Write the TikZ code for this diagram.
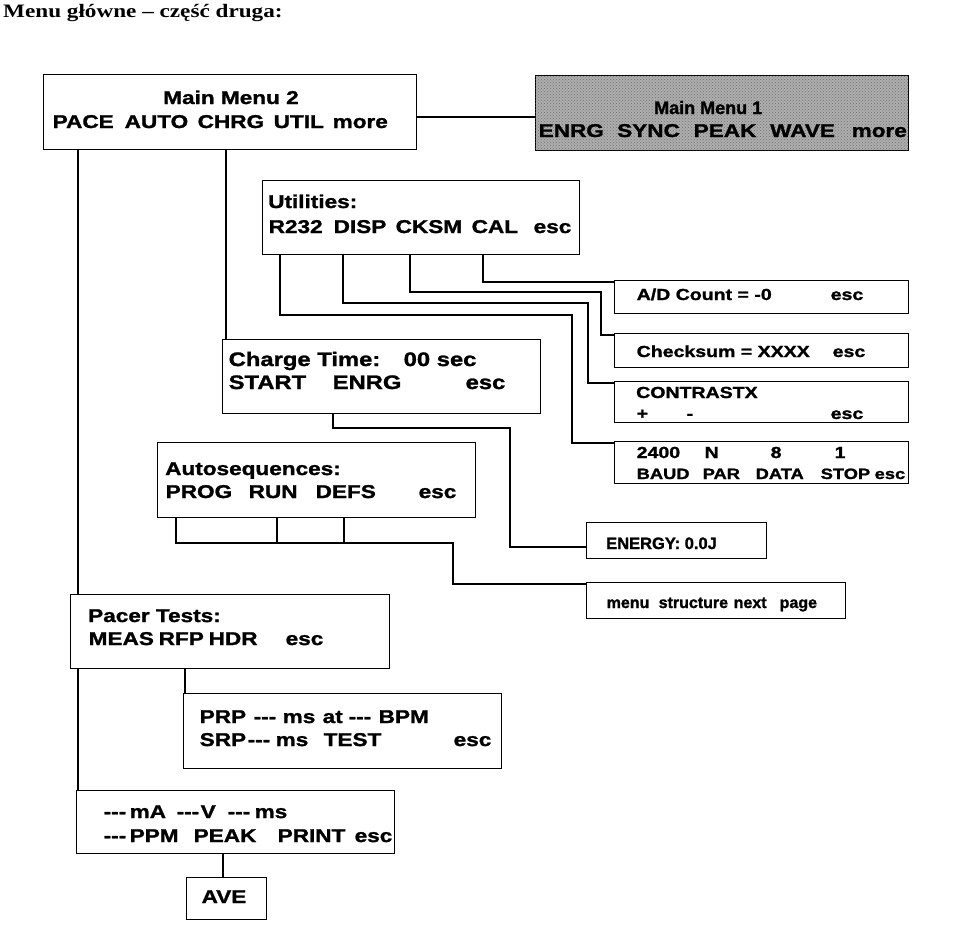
\documentclass[tikz,border=0pt]{standalone}
\usepackage{fontspec}
\usetikzlibrary{patterns}
\setmainfont{Liberation Sans}
\newfontfamily\bxf{Liberation Sans}[FakeStretch=1.22,FakeBold=1.4]
\newfontfamily\bnf{Liberation Sans}[FakeBold=1.4]
\newfontfamily\ttlf{Liberation Serif}[FakeStretch=1.22]
\newcommand\tw[2]{\makebox[0pt][l]{\hspace*{#1pt}#2}}
\newcommand\dsh{{-}{-}{-}}
\begin{document}
\begin{tikzpicture}[x=1pt,y=-1pt,
  box/.style={draw, line width=1.4pt, inner sep=0pt, anchor=north west},
  wire/.style={line width=1.3pt},
  big/.style={inner sep=0pt, anchor=base west, font=\bxf\bfseries\fontsize{18.5}{20}\selectfont},
  bigc/.style={inner sep=0pt, anchor=base west, font=\bxf\bfseries\fontsize{19.5}{21}\selectfont},
  sml/.style={inner sep=0pt, anchor=base west, font=\bxf\bfseries\fontsize{16}{18}\selectfont},
  nar/.style={inner sep=0pt, anchor=base west, font=\bnf\bfseries\fontsize{16}{18}\selectfont},
]
\useasboundingbox (0,0) rectangle (960,948);

% title
\node[anchor=base west, inner sep=0pt, font=\ttlf\bfseries\fontsize{19}{21}\selectfont] (title) at (3,17) {Menu główne – część druga:};

% boxes
\node[box, minimum width=373pt, minimum height=75pt] (mm2) at (43,74) {};
\node[box, fill=black!32, postaction={pattern=crosshatch dots, pattern color=black!55}, minimum width=373pt, minimum height=75pt] (mm1) at (535,75) {};
\node[box, minimum width=317pt, minimum height=74pt] (util) at (262,180) {};
\node[box, minimum width=294pt, minimum height=33pt] (ad) at (614,280) {};
\node[box, minimum width=294pt, minimum height=34pt] (cks) at (614,333) {};
\node[box, minimum width=294pt, minimum height=41pt] (contr) at (614,381) {};
\node[box, minimum width=294pt, minimum height=42pt] (baud) at (614,441) {};
\node[box, minimum width=318pt, minimum height=74pt] (chg) at (222,339) {};
\node[box, minimum width=318pt, minimum height=75pt] (auto) at (157,442) {};
\node[box, minimum width=180pt, minimum height=36pt] (en) at (586,522) {};
\node[box, minimum width=259pt, minimum height=36pt] (menu) at (586,582) {};
\node[box, minimum width=319pt, minimum height=74pt] (pacer) at (70,594) {};
\node[box, minimum width=318pt, minimum height=75pt] (prp) at (183,693) {};
\node[box, minimum width=318pt, minimum height=63pt] (meas) at (76,790) {};
\node[box, minimum width=80pt, minimum height=42pt] (ave) at (186,877) {};

% connectors
\draw[wire] (mm2.east |- 0,117) -- (mm1.west |- 0,117);
\draw[wire] (mm2.south -| 78,0) -- (pacer.north -| 78,0);
\draw[wire] (pacer.south -| 78,0) -- (meas.north -| 78,0);
\draw[wire] (mm2.south -| 226,0) -- (chg.north -| 226,0);
\draw[wire] (util.south -| 483,0) |- (ad.west |- 0,282);
\draw[wire] (util.south -| 410,0) |- (601,292) |- (cks.west |- 0,335);
\draw[wire] (util.south -| 343,0) |- (588,303) |- (contr.west |- 0,383);
\draw[wire] (util.south -| 280,0) |- (572,315) |- (baud.west |- 0,443);
\draw[wire] (chg.south -| 333,0) |- (510,428) |- (en.west |- 0,547);
\draw[wire] (auto.south -| 176,0) |- (453,543) |- (menu.west |- 0,584);
\draw[wire] (auto.south -| 277,0) -- (277,543);
\draw[wire] (auto.south -| 344,0) -- (344,543);
\draw[wire] (pacer.south -| 185,0) -- (prp.north -| 185,0);
\draw[wire] (meas.south -| 223,0) -- (ave.north -| 223,0);

% texts
\node[big, anchor=base] (t1) at (231,104) {Main Menu 2};
\node[big] (t2) at (52,128) {\tw{0}{PACE}\tw{72}{AUTO}\tw{145}{CHRG}\tw{221}{UTIL}\tw{280}{more}};
\node[nar, font=\bnf\bfseries\fontsize{18}{20}\selectfont] (t3) at (654,114) {Main Menu 1};
\node[big] (t4) at (538,137) {\tw{0}{ENRG}\tw{78.5}{SYNC}\tw{155}{PEAK}\tw{231.5}{WAVE}\tw{313}{more}};
\node[big] (t5) at (268,208) {Utilities:};
\node[big] (t6) at (268,233) {\tw{0}{R232}\tw{65}{DISP}\tw{127}{CKSM}\tw{203}{CAL}\tw{265}{esc}};
\node[sml] (t7) at (636,300) {\tw{0}{A/D Count = -0}\tw{194}{esc}};
\node[sml] (t8) at (636,357) {\tw{0}{Checksum = XXXX}\tw{196}{esc}};
\node[sml] (t9) at (636,398) {CONTRASTX};
\node[sml] (t10) at (636,419) {\tw{0}{+}\tw{50}{-}\tw{194}{esc}};
\node[sml] (t11) at (636,458) {\tw{0}{2400}\tw{68}{N}\tw{134}{8}\tw{198}{1}};
\node[sml, font=\bxf\bfseries\fontsize{15}{17}\selectfont] (t12) at (636,479) {\tw{0}{BAUD}\tw{66}{PAR}\tw{119}{DATA}\tw{184}{STOP}\tw{238}{esc}};
\node[bigc] (t13) at (228,366) {\tw{0}{Charge Time:}\tw{175}{00 sec}};
\node[bigc] (t14) at (228,389) {\tw{0}{START}\tw{104}{ENRG}\tw{237}{esc}};
\node[big] (t15) at (165,475) {Autosequences:};
\node[big] (t16) at (165,498) {\tw{0}{PROG}\tw{83}{RUN}\tw{150}{DEFS}\tw{253}{esc}};
\node[nar, font=\bnf\bfseries\fontsize{16.5}{18}\selectfont] (t17) at (606,549) {ENERGY: 0.0J};
\node[nar] (t18) at (606,608) {\tw{0}{menu}\tw{52}{structure}\tw{127}{next}\tw{173}{page}};
\node[big] (t19) at (88,622) {Pacer Tests:};
\node[big] (t20) at (88,645) {\tw{0}{MEAS}\tw{70}{RFP}\tw{120}{HDR}\tw{197}{esc}};
\node[big] (t21) at (199,723) {\tw{0}{PRP}\tw{54}{\dsh}\tw{83}{ms}\tw{123}{at}\tw{149}{\dsh}\tw{179}{BPM}};
\node[big] (t22) at (199,746) {\tw{0}{SRP}\tw{48}{\dsh}\tw{76}{ms}\tw{124}{TEST}\tw{254}{esc}};
\node[big] (t23) at (103,818) {\tw{0}{\dsh}\tw{26}{mA}\tw{73}{\dsh}\tw{97}{V}\tw{124}{\dsh}\tw{151}{ms}};
\node[big] (t24) at (103,842) {\tw{0}{\dsh}\tw{26}{PPM}\tw{90}{PEAK}\tw{174}{PRINT}\tw{251}{esc}};
\node[big, anchor=base] (t25) at (224,903) {AVE};
\end{tikzpicture}
\end{document}
